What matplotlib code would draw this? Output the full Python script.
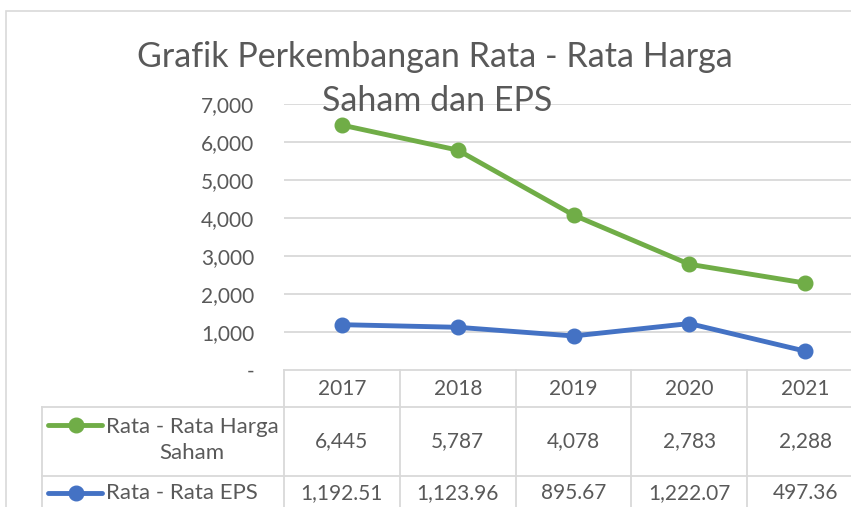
import matplotlib
matplotlib.use("Agg")
import matplotlib.pyplot as plt
from matplotlib.lines import Line2D
from matplotlib.patches import Rectangle
from matplotlib.transforms import blended_transform_factory

years = ["2017", "2018", "2019", "2020", "2021"]
harga_saham = [6445, 5787, 4078, 2783, 2288]
eps = [1192.51, 1123.96, 895.67, 1222.07, 497.36]
yticks = [0, 1000, 2000, 3000, 4000, 5000, 6000, 7000]
series_names = ["Rata - Rata Harga\nSaham", "Rata - Rata EPS"]
title = "Grafik Perkembangan Rata - Rata Harga\nSaham dan EPS"

W, H = 851, 507
GREEN = "#70AD47"
BLUE = "#4472C4"
GRID = "#D9D9D9"
TXT = "#595959"
FONT = "Lato"

plt.rcParams["font.family"] = [FONT, "DejaVu Sans"]

fig = plt.figure(figsize=(W / 100, H / 100), dpi=100)
fig.patch.set_facecolor("white")

def fx(x):
    return x / W

def fy(y):
    return 1 - y / H

# chart area border
fig.add_artist(Rectangle((fx(6), fy(600)), fx(900), fy(11) - fy(600),
                         transform=fig.transFigure, fill=False,
                         edgecolor=GRID, lw=1.2))

# plot area
left, right, top, bottom = 284, 863, 104, 370
ax = fig.add_axes([fx(left), fy(bottom), fx(right - left), fy(top) - fy(bottom)])
ax.set_xlim(-0.5, len(years) - 0.5)
ax.set_ylim(0, 7000)
for s in ax.spines.values():
    s.set_visible(False)
ax.set_xticks([])
ax.set_yticks(yticks)
ax.set_yticklabels(["-" if v == 0 else f"{v:,}" for v in yticks])
ax.tick_params(axis="y", length=0, pad=21.5, labelsize=15, labelcolor=TXT)
for v in yticks[1:]:
    ax.axhline(v, color=GRID, lw=1.3, zorder=0)

x = list(range(len(years)))
ax.plot(x, harga_saham, color=GREEN, lw=3.5, marker="o", ms=10.5,
        solid_capstyle="round", clip_on=False, zorder=3)
ax.plot(x, eps, color=BLUE, lw=3.5, marker="o", ms=10.5,
        solid_capstyle="round", clip_on=False, zorder=3)

# title
t1, t2 = title.split("\n")
fig.text(fx(435), fy(57), t1, ha="center", va="center", fontsize=24.5, color=TXT)
fig.text(fx(437), fy(101), t2, ha="center", va="center", fontsize=24.5, color=TXT)

# data table
bt = blended_transform_factory(ax.transData, fig.transFigure)
row_lines = [370, 407, 476]
for i, yy in enumerate(row_lines):
    x0 = left if i == 0 else 42
    fig.add_artist(Line2D([fx(x0), fx(900)], [fy(yy), fy(yy)],
                          transform=fig.transFigure, color=GRID, lw=1.3))
for k in range(len(years) + 1):
    fig.add_artist(Line2D([k - 0.5, k - 0.5], [fy(370), fy(520)],
                          transform=bt, color=GRID, lw=1.3, clip_on=False))
fig.add_artist(Line2D([fx(42), fx(42)], [fy(407), fy(520)],
                      transform=fig.transFigure, color=GRID, lw=1.3))

for i, yr in enumerate(years):
    fig.text(i, fy(389), yr, transform=bt, ha="center", va="center",
             fontsize=15, color=TXT)
    fig.text(i, fy(441), f"{harga_saham[i]:,}", transform=bt, ha="center",
             va="center", fontsize=15, color=TXT)
    fig.text(i, fy(493), f"{eps[i]:,.2f}", transform=bt, ha="center",
             va="center", fontsize=15, color=TXT)

# legend keys in table
for yy, col in [(425, GREEN), (493, BLUE)]:
    fig.add_artist(Line2D([fx(48), fx(102)], [fy(yy), fy(yy)],
                          transform=fig.transFigure, color=col, lw=3.5,
                          solid_capstyle="round"))
    fig.add_artist(Line2D([fx(76)], [fy(yy)], transform=fig.transFigure,
                          color=col, marker="o", ms=10.5, lw=0))
fig.text(fx(192), fy(440), series_names[0], ha="center", va="center",
         multialignment="center", fontsize=16, color=TXT, linespacing=1.4)
fig.text(fx(106), fy(493), series_names[1], ha="left", va="center",
         fontsize=16, color=TXT)

fig.savefig("out.png", dpi=100)
